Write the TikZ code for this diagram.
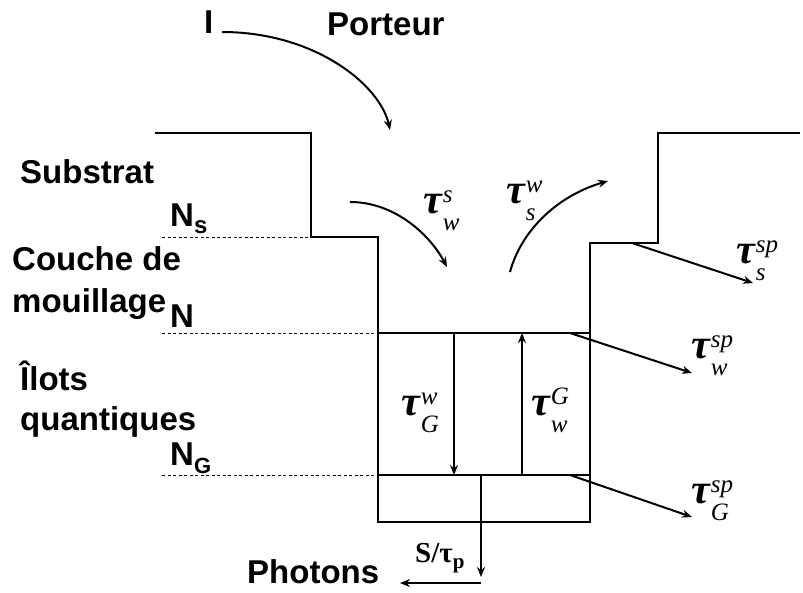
\documentclass[tikz,border=0pt]{standalone}
\usepackage{fontspec}
\setmainfont{Liberation Sans}
\newfontfamily\serif{Liberation Serif}
\usetikzlibrary{arrows.meta}
\newcommand\tfont{\fontsize{42}{42}\selectfont\serif\bfseries\itshape}
\newcommand\supfont{\fontsize{25}{25}\selectfont\serif\mdseries\itshape}
\newcommand\tlab[2]{{\tfont τ}\kern1pt\rlap{\raisebox{11pt}{\supfont #1}}\raisebox{-17pt}{\supfont #2}}
\begin{document}
\begin{tikzpicture}[x=1pt,y=-1pt,
  wall/.style={line width=2.4pt, line join=miter},
  arr/.style={line width=2pt,-{Stealth[length=10pt,width=8pt]}},
  lvl/.style={line width=0.9pt, dash pattern=on 3pt off 2.5pt},
  lab/.style={font=\fontsize{33}{38}\selectfont\bfseries, anchor=base west, inner sep=0pt},
  tau/.style={anchor=base west, inner sep=0pt}]
\useasboundingbox (0,0) rectangle (803,592);
% wall outline
\coordinate (wl0) at (155,133);
\coordinate (wl1) at (311,133);
\coordinate (wl2) at (311,237);
\coordinate (wl3) at (378,237);
\coordinate (b1) at (378,522);
\coordinate (b2) at (590,522);
\coordinate (wr1) at (590,243);
\coordinate (wr2) at (658,243);
\coordinate (wr3) at (658,133);
\coordinate (wr4) at (800,133);
\draw[wall] (wl0)--(wl1)--(wl2)--(wl3)--(b1)--(b2)--(wr1)--(wr2)--(wr3)--(wr4);
% levels
\coordinate (nL) at (378,333);
\coordinate (nR) at (590,333);
\coordinate (gL) at (378,475);
\coordinate (gR) at (590,475);
\draw[wall] (nL)--(nR);
\draw[wall] (gL)--(gR);
\coordinate (ds0) at (162,237);
\coordinate (dn0) at (162,333);
\coordinate (dg0) at (162,475);
\draw[lvl] (ds0)--(wl2);
\draw[lvl] (dn0)--(nL);
\draw[lvl] (dg0)--(gL);
% vertical transitions
\coordinate (a1t) at (454,333);
\coordinate (a1b) at (454,475);
\coordinate (a2b) at (522,475);
\coordinate (a2t) at (522,333);
\draw[arr] (a1t)--(a1b);
\draw[arr] (a2b)--(a2t);
% photons
\coordinate (p0) at (481,475);
\coordinate (p1) at (481,577);
\coordinate (p2) at (481,583);
\coordinate (p3) at (400,583);
\draw[arr] (p0)--(p1);
\draw[arr] (p2)--(p3);
% spontaneous
\coordinate (s1a) at (632,243);
\coordinate (s1b) at (753,283);
\coordinate (s2a) at (570,333);
\coordinate (s2b) at (692,373);
\coordinate (s3a) at (570,475);
\coordinate (s3b) at (692,517);
\draw[arr] (s1a)--(s1b);
\draw[arr] (s2a)--(s2b);
\draw[arr] (s3a)--(s3b);
% curved arrows
\coordinate (c0a) at (222,32);
\coordinate (c0b) at (390,130);
\draw[arr] (c0a) .. controls (315,32) and (380,85) .. (c0b);
\coordinate (c1a) at (350,202);
\coordinate (c1b) at (447,267);
\draw[arr] (c1a) .. controls (395,202) and (430,235) .. (c1b);
\coordinate (c2a) at (510,272);
\coordinate (c2b) at (608,181);
\draw[arr] (c2a) .. controls (522,228) and (560,195) .. (c2b);
% text labels
\node[lab] (tI) at (204,33) {I};
\node[lab] (tPorteur) at (327,35) {Porteur};
\node[lab] (tSub) at (20,183) {Substrat};
\node[lab] (tNs) at (170,226) {N\raisebox{-7pt}{\fontsize{24}{24}\selectfont s}};
\node[lab] (tCouche) at (12,270) {Couche de};
\node[lab] (tMouil) at (12,312) {mouillage};
\node[lab] (tN) at (170,327) {N};
\node[lab] (tIlots) at (20,390) {Îlots};
\node[lab] (tQuant) at (20,430) {quantiques};
\node[lab] (tNG) at (170,465) {N\raisebox{-8pt}{\fontsize{22}{22}\selectfont G}};
\node[lab] (tPhot) at (247,583) {Photons};
\node[anchor=base west, inner sep=0pt, font=\fontsize{29}{32}\selectfont\serif\bfseries] (tStau) at (415,562) {S/τ\raisebox{-6pt}{\fontsize{21}{21}\selectfont p}};
% tau labels
\node[tau] (tws) at (423,213) {\tlab{s}{w}};
\node[tau] (tsw) at (506,203) {\tlab{w}{s}};
\node[tau] (tssp) at (736,263) {\tlab{sp}{s}};
\node[tau] (twsp) at (691,358) {\tlab{sp}{w}};
\node[tau] (tGw) at (401,415) {\tlab{w}{G}};
\node[tau] (twG) at (531,415) {\tlab{G}{w}};
\node[tau] (tGsp) at (691,503) {\tlab{sp}{G}};
\end{tikzpicture}
\end{document}
